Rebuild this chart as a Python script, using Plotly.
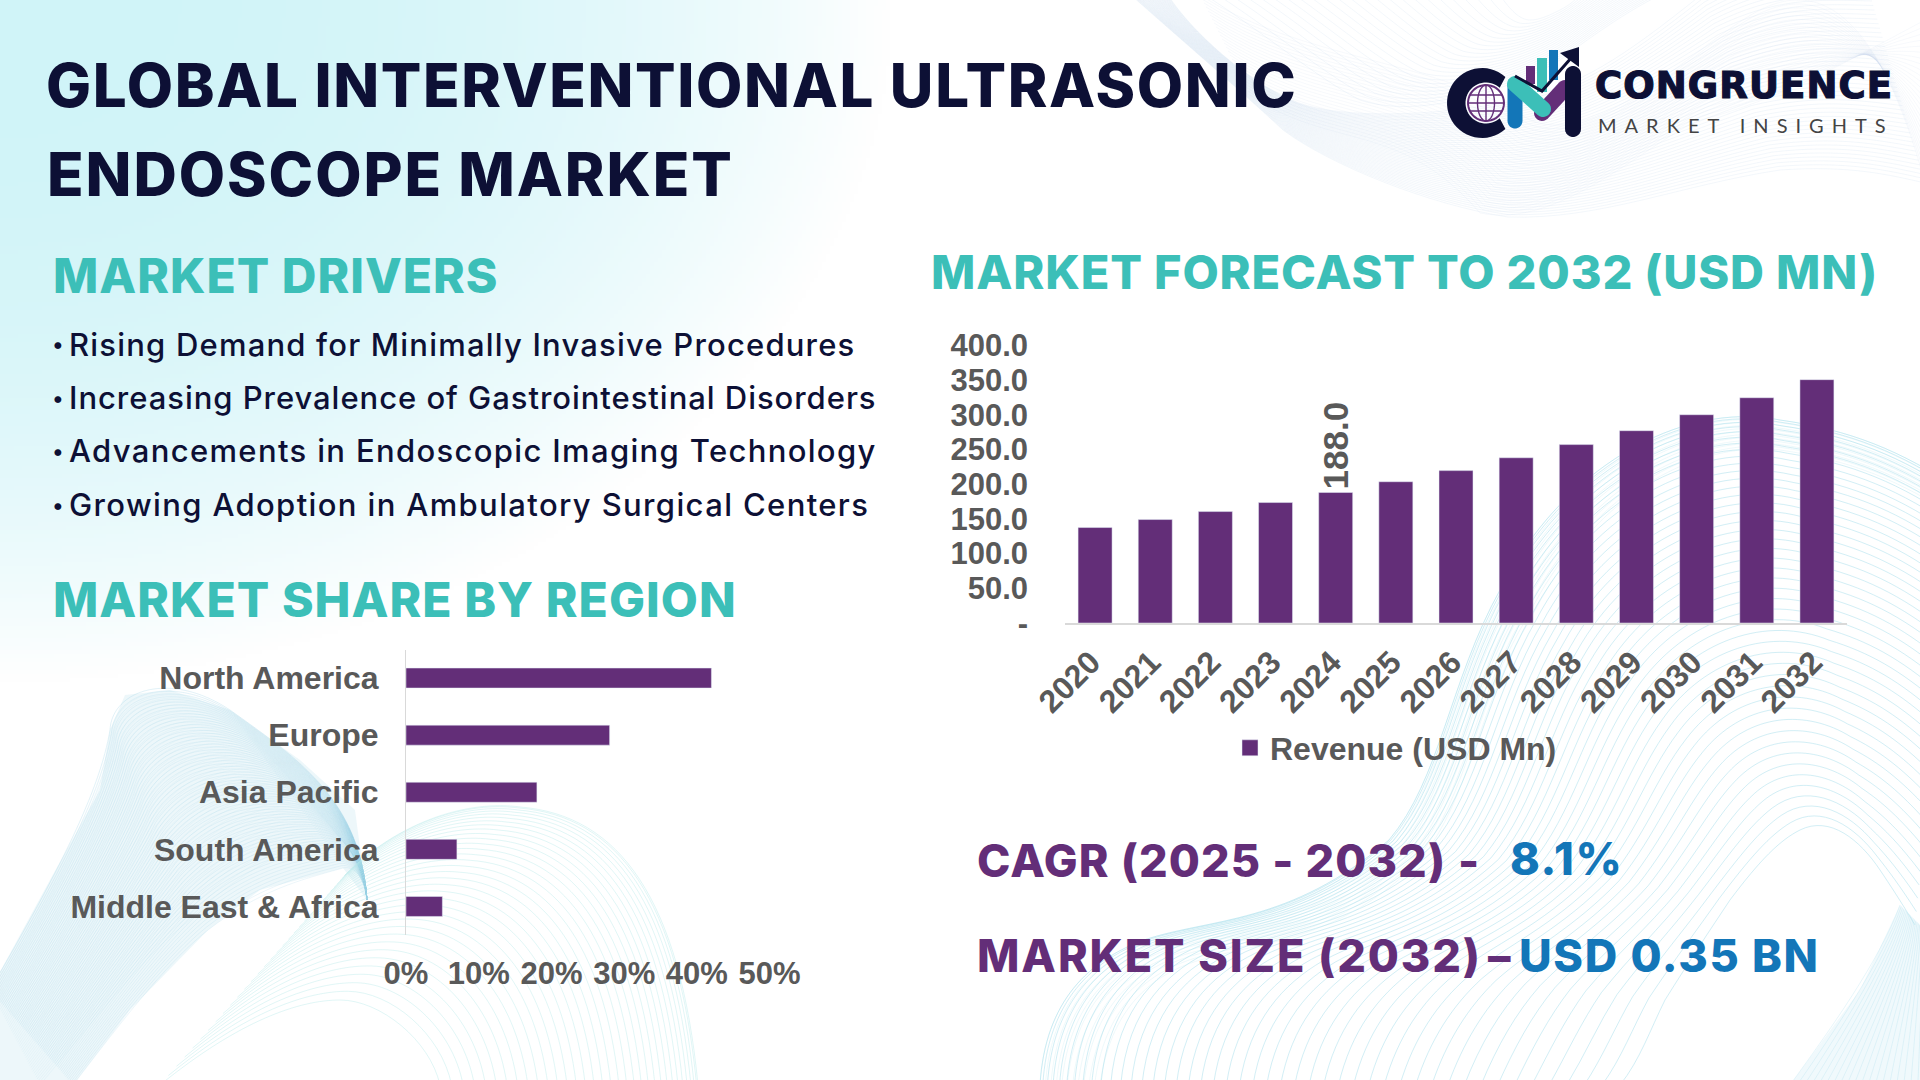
import base64
import struct
import zlib

import numpy as np
import plotly.graph_objects as go

W, H = 1920, 1080

# chart data
years = ["2020", "2021", "2022", "2023", "2024", "2025", "2026", "2027", "2028", "2029", "2030", "2031", "2032"]
revenue = [137.5, 149.0, 160.5, 173.5, 188.0, 203.5, 219.5, 238.0, 257.0, 277.0, 300.0, 324.5, 350.5]
labelled_year = "2024"
revenue_ticks = [0, 50, 100, 150, 200, 250, 300, 350, 400]
revenue_tick_text = ["-", "50.0", "100.0", "150.0", "200.0", "250.0", "300.0", "350.0", "400.0"]

regions = ["North America", "Europe", "Asia Pacific", "South America", "Middle East & Africa"]
region_share = [42, 28, 18, 7, 5]
share_ticks = [0, 10, 20, 30, 40, 50]
share_tick_text = ["0%", "10%", "20%", "30%", "40%", "50%"]

drivers = [
    "Rising Demand for Minimally Invasive Procedures",
    "Increasing Prevalence of Gastrointestinal Disorders",
    "Advancements in Endoscopic Imaging Technology",
    "Growing Adoption in Ambulatory Surgical Centers",
]

NAVY = "#0d1035"
TEAL = "#3cbfb8"
PURPLE = "#632e78"
BLUE = "#1376b8"
GREY = "#595959"
BODY = "Inter"
CHART = "Liberation Sans"


def P(x, y):
    return f"{x / W:.5f},{1 - y / H:.5f}"


# corner gradient of the page, as a small png
def gradient_png():
    w, h = 480, 270
    xs, ys = np.meshgrid((np.arange(w) + 0.5) * W / w, (np.arange(h) + 0.5) * H / h)
    d = np.clip(np.sqrt((xs / 890) ** 2 + (ys / 680) ** 2), 0, 1)
    a = (1 - d ** 2.4)[..., None]
    rgb = (255 - a * (255 - np.array([208, 244, 248]))).astype("uint8")
    raw = b"".join(b"\x00" + row.tobytes() for row in rgb)

    def chunk(tag, data):
        return struct.pack(">I", len(data)) + tag + data + struct.pack(">I", zlib.crc32(tag + data))

    png = b"\x89PNG\r\n\x1a\n" + chunk(b"IHDR", struct.pack(">IIBBBBB", w, h, 8, 2, 0, 0, 0))
    png += chunk(b"IDAT", zlib.compress(raw)) + chunk(b"IEND", b"")
    return "data:image/png;base64," + base64.b64encode(png).decode()


# decorative line ribbons: n curves blended between two bezier guide curves
def ribbon(c0, c1, n, color, width=0.8, power=1.0):
    c0, c1 = np.array(c0, float), np.array(c1, float)
    parts = []
    for t in np.linspace(0, 1, n) ** power:
        c = c0 * (1 - t) + c1 * t
        s = "M" + P(*c[0])
        for i in range(1, len(c), 3):
            s += "C" + " ".join(P(*q) for q in c[i:i + 3])
        parts.append(s)
    return dict(type="path", xref="paper", yref="paper", path="".join(parts),
                line=dict(color=color, width=width), layer="below")


def blob(points, color):
    return dict(type="path", xref="paper", yref="paper", layer="below", fillcolor=color,
                line=dict(width=0), path="M" + "L".join(P(*p) for p in points) + "Z")


def capsule(a, b, w, color):
    a, b = np.array(a, float), np.array(b, float)
    ang = np.arctan2(*(b - a)[::-1])
    th = np.linspace(-np.pi / 2, np.pi / 2, 12)
    pts = [a + w / 2 * np.array([np.cos(ang + t + np.pi), np.sin(ang + t + np.pi)]) for t in th]
    pts += [b + w / 2 * np.array([np.cos(ang + t), np.sin(ang + t)]) for t in th]
    return dict(type="path", xref="paper", yref="paper", fillcolor=color, line=dict(width=0),
                path="M" + "L".join(P(*p) for p in pts) + "Z")


def poly(points, color):
    return dict(type="path", xref="paper", yref="paper", fillcolor=color, line=dict(width=0),
                path="M" + "L".join(P(*p) for p in points) + "Z")


def ellipse(cx, cy, rx, ry, color, width=1.6):
    th = np.linspace(0, 2 * np.pi, 40)
    pts = [(cx + rx * np.cos(t), cy + ry * np.sin(t)) for t in th]
    return dict(type="path", xref="paper", yref="paper", line=dict(color=color, width=width),
                path="M" + "L".join(P(*p) for p in pts))


shapes = []

# bottom left twisted ribbon
left_outer = [(-10, 990), (60, 870), (100, 790), (110, 730), (112, 690), (170, 670), (230, 710), (300, 760), (360, 800), (367, 900)]
left_inner = [(73, 1085), (130, 1010), (170, 960), (208, 930), (260, 890), (300, 880), (343, 868), (355, 865), (365, 880), (367, 900)]
left_fill = [(-10, 990), (50, 880), (100, 790), (110, 730), (125, 695), (170, 690), (230, 710), (300, 760), (355, 810), (367, 900),
             (343, 868), (260, 890), (208, 930), (130, 1010), (73, 1085), (-10, 1085)]
shapes.append(blob(left_fill, "rgba(190,228,238,0.28)"))
shapes.append(ribbon(left_outer, left_inner, 70, "rgba(150,205,225,0.30)", 0.6))
shapes.append(ribbon(left_outer, [(40, 1085), (110, 1000), (150, 950), (190, 920), (250, 860), (320, 830), (350, 850), (358, 860), (365, 880), (367, 900)], 50, "rgba(150,205,225,0.18)", 0.6))

# pale arches next to it
arch_outer = [(345, 875), (400, 820), (470, 800), (520, 807), (620, 815), (680, 900), (698, 1085)]
arch_inner = [(160, 1085), (240, 1020), (300, 1000), (340, 1000), (380, 1000), (430, 1040), (440, 1085)]
shapes.append(ribbon(arch_outer, arch_inner, 34, "rgba(180,232,232,0.50)", 0.8, 1.5))

# bottom right big swell
right_outer = [(1040, 1085), (1045, 1000), (1090, 960), (1144, 940), (1210, 918), (1290, 925), (1389, 840), (1440, 780), (1450, 680),
               (1500, 590), (1560, 470), (1680, 400), (1780, 420), (1850, 430), (1900, 450), (1960, 490)]
right_inner = [(1620, 1085), (1640, 1060), (1650, 1030), (1665, 1000), (1690, 960), (1710, 930), (1730, 900), (1760, 860), (1780, 840),
               (1800, 830), (1830, 815), (1860, 840), (1880, 870), (1890, 885), (1900, 900), (1915, 925)]
shapes.append(ribbon(right_outer, right_inner, 46, "rgba(165,222,235,0.50)", 1.0, 1.4))
shapes.append(ribbon(right_outer, [(1100, 1085), (1110, 1010), (1150, 975), (1200, 960), (1270, 940), (1340, 940), (1420, 860), (1470, 800),
                                   (1480, 700), (1530, 620), (1590, 500), (1690, 440), (1780, 450), (1850, 460), (1900, 480), (1960, 520)],
                     12, "rgba(165,222,235,0.32)", 0.6))

# lower right fold
fold_a = [(1900, 905), (1880, 960), (1830, 1030), (1790, 1085)]
fold_b = [(1925, 930), (1925, 980), (1925, 1030), (1925, 1085)]
shapes.append(blob([(1900, 905), (1860, 990), (1790, 1085), (1925, 1085), (1925, 930)], "rgba(200,235,243,0.28)"))
shapes.append(ribbon(fold_a, fold_b, 20, "rgba(160,220,235,0.35)", 0.7))

# top right net
top_low = [(1131, -5), (1170, 30), (1240, 90), (1283, 130), (1330, 165), (1430, 205), (1508, 217), (1600, 220), (1680, 185), (1780, 170), (1850, 165), (1890, 175), (1925, 183)]
top_up = [(1168, -5), (1190, 30), (1250, 85), (1299, 103), (1340, 118), (1430, 118), (1518, 100), (1580, 85), (1620, 60), (1701, -5), (1760, -40), (1800, -40), (1860, -40)]
shapes.append(ribbon(top_low, top_up, 50, "rgba(190,212,232,0.30)", 0.6))
shapes.append(ribbon([(1250, 95), (1330, 150), (1400, 120), (1480, 213), (1560, 230), (1650, 140), (1700, 120), (1780, 100), (1850, 60), (1925, 20), (1960, 0), (1990, -10), (2020, -20)],
                     [(1200, -5), (1300, 60), (1440, 60), (1530, 120), (1600, 150), (1700, 40), (1760, 10), (1800, -10), (1870, -20), (1925, 183), (1960, 170), (1990, 160), (2020, 150)],
                     26, "rgba(190,212,232,0.22)", 0.6))
shapes.append(ribbon([(1205, -5), (1260, 30), (1320, 80), (1360, 100), (1420, 120), (1510, 90), (1560, 60), (1600, 30), (1630, 10), (1660, -5), (1680, -10), (1690, -10), (1700, -10)],
                     [(1500, -5), (1510, 10), (1520, 20), (1530, 20), (1540, 20), (1550, 15), (1560, 10), (1570, 5), (1575, 0), (1580, -5), (1585, -10), (1590, -10), (1600, -10)],
                     24, "rgba(195,218,236,0.30)", 0.7))

# logo marks
logo = []
th = np.linspace(np.radians(48), np.radians(312), 40)
c_pts = [(1482 + 35 * np.cos(t), 103 + 35 * np.sin(t)) for t in th]
c_pts += [(1486 + 20.5 * np.cos(t), 103 + 20.5 * np.sin(t)) for t in th[::-1]]
logo.append(poly(c_pts, NAVY))
logo.append(ellipse(1486, 103, 18, 18, PURPLE, 2))
logo.append(ellipse(1486, 103, 8.5, 18, PURPLE, 1.4))
logo.append(dict(type="path", xref="paper", yref="paper", line=dict(color=PURPLE, width=1.4),
                 path="M" + P(1486, 85) + "L" + P(1486, 121) + "M" + P(1470, 95) + "L" + P(1502, 95)
                      + "M" + P(1468, 103) + "L" + P(1504, 103) + "M" + P(1470, 111) + "L" + P(1502, 111)))
logo.append(poly([(1526, 66), (1535, 66), (1535, 84), (1526, 84)], PURPLE))
logo.append(poly([(1537, 58), (1547, 58), (1547, 92), (1537, 92)], TEAL))
logo.append(poly([(1549, 50), (1558, 50), (1558, 80), (1549, 80)], BLUE))
logo.append(capsule((1515, 86), (1515, 121), 15, BLUE))
logo.append(capsule((1542, 113), (1565, 88), 16, PURPLE))
logo.append(capsule((1515, 84), (1543, 109), 16, TEAL))
logo.append(capsule((1573, 74), (1573, 129), 16, NAVY))
logo.append(dict(type="path", xref="paper", yref="paper", line=dict(color=NAVY, width=3),
                 path="M" + P(1515, 76) + "L" + P(1542, 91) + "L" + P(1572, 57)))
logo.append(poly([(1560, 53), (1579, 47), (1579, 67)], NAVY))
shapes += logo

fig = go.Figure()

bar_text = [f"{v:.1f}" if y == labelled_year else "" for y, v in zip(years, revenue)]
fig.add_trace(go.Bar(
    x=years, y=revenue, name="Revenue (USD Mn)", marker_color=PURPLE,
    text=bar_text, textposition="outside", textangle=-90, cliponaxis=False, constraintext="none",
    textfont=dict(family=CHART, size=35, color=GREY, weight="bold"),
    xaxis="x", yaxis="y",
))
fig.add_trace(go.Bar(
    x=region_share, y=regions, orientation="h", marker_color=PURPLE, showlegend=False, width=0.35,
    xaxis="x2", yaxis="y2",
))

tick_font = dict(family=CHART, size=31, color=GREY, weight="bold")
year_font = dict(family=CHART, size=32, color=GREY, weight="bold")
region_font = dict(family=CHART, size=32, color=GREY, weight="bold")


def label(text, x, y, size, color, weight=700, family=BODY, spacing=0, extra=""):
    if spacing or extra:
        text = f'<span style="letter-spacing:{spacing}px;{extra}">{text}</span>'
    return dict(text=text, x=x / W, y=1 - y / H, xref="paper", yref="paper", xanchor="left", yanchor="middle",
                showarrow=False, align="left", font=dict(family=family, size=size, color=color, weight=weight))


annotations = [
    label("GLOBAL INTERVENTIONAL ULTRASONIC", 44, 85, 60, NAVY, 800, spacing=1.65),
    label("ENDOSCOPE MARKET", 45, 174, 60, NAVY, 800, spacing=1.95),
    label("MARKET DRIVERS", 51, 275, 48, TEAL, 800, spacing=1.0),
    label("MARKET SHARE BY REGION", 51, 599, 48, TEAL, 800, spacing=1.03),
    label("MARKET FORECAST TO 2032 (USD MN)", 929, 272, 47, TEAL, 800, spacing=0.85),
    label("CAGR (2025 - 2032)", 975, 860, 45, PURPLE, 800, spacing=1.1),
    label("-", 1456, 860, 45, PURPLE, 800),
    label("8.1%", 1508, 858, 45, BLUE, 800, spacing=1.6),
    label("MARKET SIZE (2032)", 975, 955, 45, PURPLE, 800, spacing=1.9),
    label("–", 1486, 955, 45, PURPLE, 800),
    label("USD 0.35 BN", 1517, 955, 45, BLUE, 800, spacing=1.65),
    label("CONGRUENCE", 1593, 86, 37, NAVY, 700, "DejaVu Sans", spacing=1.1,
          extra=f"stroke:{NAVY};stroke-width:1.2px"),
    label("MARKET INSIGHTS", 1596, 125, 20, "#444444", 400, "Lato", spacing=8),
]
driver_y = [344, 398, 451, 505]
driver_spacing = [1.2, 0.96, 1.34, 1.37]
for d, y, s in zip(drivers, driver_y, driver_spacing):
    annotations.append(label("•", 50, y, 22, NAVY, 500))
    annotations.append(label(d, 67, y, 31, NAVY, 500, spacing=s))

fig.update_layout(
    width=W, height=H,
    margin=dict(l=0, r=0, t=0, b=0, autoexpand=False),
    paper_bgcolor="white", plot_bgcolor="rgba(0,0,0,0)",
    barmode="group",
    showlegend=True,
    legend=dict(x=1230 / W, y=1 - 748 / H, xanchor="left", yanchor="middle", bgcolor="rgba(0,0,0,0)",
                font=dict(family=CHART, size=32, color=GREY, weight="bold")),
    images=[dict(source=gradient_png(), xref="paper", yref="paper", x=0, y=1, sizex=1, sizey=1,
                 sizing="stretch", layer="below", xanchor="left", yanchor="top")],
    shapes=shapes,
    annotations=annotations,
    bargap=0.435,
    xaxis=dict(domain=[1065 / W, 1847 / W], anchor="y", type="category", tickangle=-45, tickfont=year_font,
               showgrid=False, showline=True, linecolor="#d9d9d9", linewidth=1.5, ticks="",
               ticklabelstandoff=6, ticklabelshift=-4),
    yaxis=dict(domain=[1 - 623 / H, 1 - 345.3 / H], anchor="x", range=[0, 400], tickvals=revenue_ticks,
               ticktext=revenue_tick_text, tickfont=tick_font, showgrid=False, zeroline=False, ticks="",
               ticklabelstandoff=36),
    xaxis2=dict(domain=[406 / W, 769.6 / W], anchor="y2", range=[0, 50], tickvals=share_ticks, ticktext=share_tick_text,
                tickfont=tick_font, showgrid=False, zeroline=False, ticks="", ticklabelstandoff=17),
    yaxis2=dict(domain=[1 - 935 / H, 1 - 649.5 / H], anchor="x2", type="category", autorange="reversed",
                tickfont=region_font, showgrid=False, showline=True, linecolor="#d9d9d9", linewidth=1, ticks="",
                ticklabelstandoff=20),
)

# square legend key is a bit bigger than plotly's default
page_js = """
document.body.style.margin='0';document.body.style.overflow='hidden';
document.querySelectorAll('.legendpoints path').forEach(function(p){p.setAttribute('d','M8,8H-8V-8H8Z');});
"""
fig.write_html("out.html", config=dict(displayModeBar=False), post_script=page_js)
